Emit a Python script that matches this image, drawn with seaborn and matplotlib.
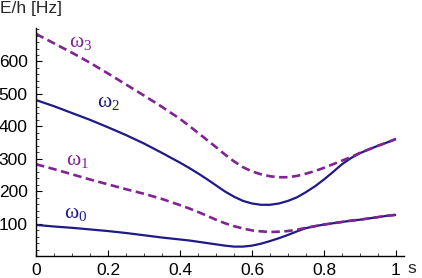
import numpy as np
import pandas as pd
import matplotlib
matplotlib.use("Agg")
import matplotlib.pyplot as plt
import seaborn as sns
from matplotlib.ticker import MultipleLocator, FuncFormatter

s = [0.0, 0.05, 0.1, 0.15, 0.2, 0.25, 0.3, 0.35, 0.4,
     0.425, 0.45, 0.475, 0.5, 0.525, 0.55, 0.575, 0.6, 0.625, 0.65,
     0.675, 0.7, 0.725, 0.75, 0.775, 0.8, 0.825, 0.85, 0.875, 0.9,
     0.925, 0.95, 0.975, 1.0]
omega0 = [96, 91, 87, 82, 77, 71, 64, 57, 51,
          48, 44, 40, 36, 32, 29, 29, 32, 38, 46,
          55, 65, 76, 86, 92, 97, 101, 105, 109, 112,
          116, 120, 124, 127]
omega1 = [283, 268, 252, 236, 221, 206, 192, 176, 157,
          147, 136, 124, 112, 101, 92, 85, 79, 76, 74,
          75, 77, 81, 87, 92, 97, 101, 105, 109, 112,
          116, 120, 124, 127]
omega2 = [481, 462, 441, 420, 397, 373, 347, 318, 288,
          272, 255, 237, 218, 199, 183, 170, 162, 158, 158,
          162, 170, 181, 197, 215, 236, 259, 283, 302, 317,
          329, 340, 350, 361]
omega3 = [685, 656, 627, 596, 563, 529, 495, 460, 423,
          402, 380, 358, 336, 313, 292, 274, 261, 252, 246,
          243, 243, 247, 254, 262, 272, 283, 294, 305, 318,
          329, 340, 350, 361]

series_names = ["ω0", "ω1", "ω2", "ω3"]
series_vals = [omega0, omega1, omega2, omega3]
label_subs = ["0", "1", "2", "3"]
label_pos = [(0.078, 130), (0.084, 296), (0.17, 472), (0.092, 660)]

x_ticks = [0, 0.2, 0.4, 0.6, 0.8, 1.0]
y_ticks = [100, 200, 300, 400, 500, 600]

solid_col = "#1f1a85"
dash_col = "#7f2490"

sns.set_style("ticks")
plt.rcParams['font.family'] = ['Liberation Sans', 'DejaVu Sans']
plt.rcParams['mathtext.default'] = 'regular'

fig = plt.figure(figsize=(4.22, 2.78), dpi=100)
ax = fig.add_axes([0.0853, 0.0791, 0.957 - 0.0853, 0.899 - 0.0791])

for i, (name, vals) in enumerate(zip(series_names, series_vals)):
    df = pd.DataFrame({"s": s, "E": vals})
    dashed = (i % 2 == 1)
    col = dash_col if dashed else solid_col
    sns.lineplot(data=df, x="s", y="E", ax=ax, color=col,
                 lw=1.9 if dashed else 1.6, legend=False)
    ln = ax.lines[-1]
    if dashed:
        ln.set_dashes([3.2, 1.7])
    ln.set_solid_capstyle("butt")
    ln.set_dash_capstyle("butt")
    ln.set_solid_joinstyle("round")
    lx, ly = label_pos[i]
    ax.text(lx, ly, "ω$_{" + label_subs[i] + "}$", color=col,
            fontsize=15.5, va="center", ha="left",
            family=['Liberation Serif', 'DejaVu Serif'])

ax.set_xlim(0, 1.022)
ax.set_ylim(0, 703)
ax.set_xlabel("")
ax.set_ylabel("")
for sp in ["top", "right"]:
    ax.spines[sp].set_visible(False)
for sp in ["left", "bottom"]:
    ax.spines[sp].set_linewidth(1.0)
    ax.spines[sp].set_color("black")

ax.set_xticks(x_ticks)
ax.set_yticks(y_ticks)
ax.xaxis.set_minor_locator(MultipleLocator(0.05))
ax.yaxis.set_minor_locator(MultipleLocator(20))
ax.xaxis.set_major_formatter(FuncFormatter(lambda v, p: "0" if v == 0 else ("1" if abs(v - 1) < 1e-9 else f"{v:.1f}")))
ax.tick_params(axis="both", which="major", direction="in", length=4, width=0.8,
               labelsize=12.5, colors="black")
ax.tick_params(axis="both", which="minor", direction="in", length=2, width=0.6)
ax.tick_params(axis="x", pad=5)
ax.tick_params(axis="y", pad=6)

fig.text(0.0, 0.995, "E/h [Hz]", fontsize=12.5, ha="left", va="top")
fig.text(0.966, 0.035, "s", fontsize=12.5, ha="left", va="center")

fig.savefig("out.png", dpi=100)
